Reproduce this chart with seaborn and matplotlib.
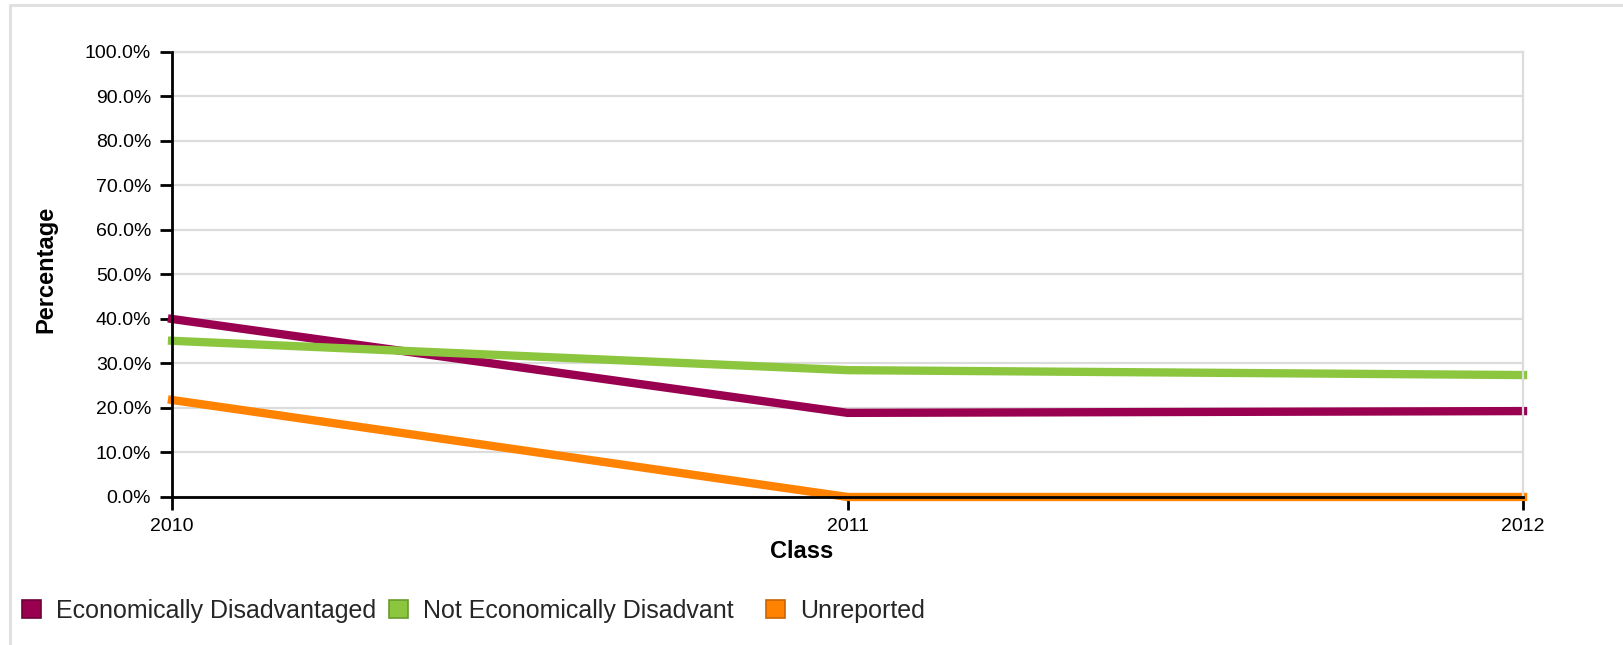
"""
Line chart: share of students by economic status per class year.
"""
import seaborn as sns
import matplotlib.pyplot as plt
import pandas as pd
from matplotlib.lines import Line2D
from matplotlib.patches import Patch
from matplotlib.ticker import PercentFormatter

# data
years = [2010, 2011, 2012]
groups = ["Economically Disadvantaged", "Not Economically Disadvant", "Unreported"]
econ_disadvantaged = [40.0, 18.9, 19.3]
not_econ_disadvantaged = [35.1, 28.5, 27.4]
unreported = [21.8, 0.0, 0.0]
y_ticks = [0, 10, 20, 30, 40, 50, 60, 70, 80, 90, 100]

colors = ["#990050", "#8cc63f", "#ff8200"]
edge_colors = ["#6e0039", "#6a9a2c", "#c86400"]
# left edge of each legend square, in pixels of the 1623 wide figure
legend_x = [22, 389, 766]

sns.set_theme(style="white")
plt.rcParams['font.family'] = ['Liberation Sans', 'DejaVu Sans']

df = pd.DataFrame({
    "Class": years * 3,
    "Percentage": econ_disadvantaged + not_econ_disadvantaged + unreported,
    "Group": [g for g in groups for _ in years],
})

fig = plt.figure(figsize=(16.23, 6.45), dpi=100)
ax = fig.add_axes([0.106, 0.2295, 0.8324, 0.6899])

sns.lineplot(data=df, x="Class", y="Percentage", hue="Group", hue_order=groups,
             palette=colors, linewidth=6, legend=False, ax=ax,
             solid_capstyle="projecting")
for line in ax.lines:
    line.set_clip_on(False)

ax.set_xlim(years[0], years[-1])
ax.set_ylim(0, 100)
ax.set_xticks(years)
ax.set_xticklabels([str(y) for y in years])
ax.set_yticks(y_ticks)
ax.yaxis.set_major_formatter(PercentFormatter(decimals=1))

# grid and spines
ax.yaxis.grid(True, color="#dcdcdc", linewidth=1.6)
ax.xaxis.grid(False)
for side in ["top", "right"]:
    ax.spines[side].set_color("#dcdcdc")
    ax.spines[side].set_linewidth(1.6)
for side in ["left", "bottom"]:
    ax.spines[side].set_color("black")
    ax.spines[side].set_linewidth(2)
    ax.spines[side].set_zorder(3)

ax.tick_params(axis="both", which="major", direction="out", length=9, width=2,
               color="black", labelsize=14, labelcolor="black")
ax.tick_params(axis="y", pad=6)
ax.tick_params(axis="x", pad=6)
ax.tick_params(left=True, bottom=True)

ax.set_xlabel("Class", fontsize=17, fontweight="bold", color="black")
ax.set_ylabel("Percentage", fontsize=17, fontweight="bold", color="black")
ax.xaxis.set_label_coords(0.466, -0.096)
ax.yaxis.set_label_coords(-0.085, 0.512)

# legend, one entry per group placed like the reference
for name, color, edge, x in zip(groups, colors, edge_colors, legend_x):
    handle = Patch(facecolor=color, edgecolor=edge, linewidth=1.2)
    fig.legend(handles=[handle], labels=[name], loc="center left",
               bbox_to_anchor=(x / 1623, 1 - 611 / 645), frameon=False,
               borderpad=0, borderaxespad=0, handlelength=0.75, handleheight=0.75,
               handletextpad=0.6, fontsize=18)

# light outer frame (top and left edges visible)
frame_color = "#e0e0e0"
fig.add_artist(Line2D([10 / 1623, 1], [1 - 5 / 645, 1 - 5 / 645],
                      transform=fig.transFigure, color=frame_color, linewidth=2.2))
fig.add_artist(Line2D([10 / 1623, 10 / 1623], [0, 1 - 5 / 645],
                      transform=fig.transFigure, color=frame_color, linewidth=2.2))

fig.savefig("out.png", dpi=100)
